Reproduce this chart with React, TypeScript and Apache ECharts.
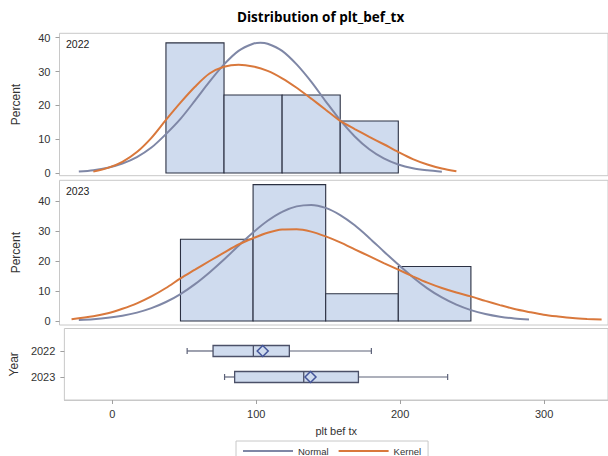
import React, { useEffect, useRef } from "react";
import * as echarts from "echarts";

// ---- Data ----
const years = ["2022", "2023"];

// Histograms (bin edges and percent per bin)
const binEdges2022 = [40, 80, 120, 160, 200];
const pct2022 = [38.46, 23.08, 23.08, 15.38];
const binEdges2023 = [50, 100, 150, 200, 250];
const pct2023 = [27.27, 45.45, 9.09, 18.18];

// Normal curve 2022
const normX2022 = [-20, -10, 0, 10, 20, 30, 40, 50, 60, 70, 80, 90, 100, 105, 110, 120, 130, 140, 150, 160, 170, 180, 190, 200, 210, 220, 230];
const normY2022 = [0.41, 0.83, 1.57, 2.8, 4.72, 7.52, 11.5, 16.0, 21.4, 27.0, 32.1, 36.1, 38.2, 38.5, 38.2, 36.1, 32.1, 27.0, 21.2, 15.6, 10.8, 7.0, 4.3, 2.5, 1.4, 0.8, 0.4];

// Kernel curve 2022
const kernX2022 = [-10, 0, 10, 20, 30, 40, 50, 60, 70, 80, 90, 100, 110, 120, 130, 140, 150, 160, 170, 180, 190, 200, 210, 220, 230, 240];
const kernY2022 = [0.4, 1.5, 3.3, 6.2, 10.4, 15.7, 20.8, 25.5, 29.4, 31.4, 32.0, 31.5, 30.2, 28.0, 25.2, 22.0, 18.7, 15.4, 13.0, 10.7, 8.5, 6.2, 4.1, 2.5, 1.3, 0.5];

// Normal curve 2023
const normX2023 = [-20, -10, 0, 10, 20, 30, 40, 50, 60, 70, 80, 90, 100, 110, 120, 130, 140, 150, 160, 170, 180, 190, 200, 210, 220, 230, 240, 250, 260, 270, 280, 290];
const normY2023 = [0.35, 0.62, 1.07, 1.77, 2.8, 4.29, 6.33, 8.99, 12.3, 16.2, 20.5, 25.1, 29.5, 33.4, 36.4, 38.2, 38.7, 37.7, 35.3, 31.9, 27.7, 23.2, 18.8, 14.6, 10.9, 7.85, 5.44, 3.63, 2.34, 1.45, 0.86, 0.5];

// Kernel curve 2023
const kernX2023 = [-25, -10, 0, 10, 20, 30, 40, 50, 60, 70, 80, 90, 100, 110, 120, 130, 140, 150, 160, 170, 180, 190, 200, 210, 220, 230, 240, 250, 260, 270, 280, 290, 300, 310, 320, 330, 340];
const kernY2023 = [0.6, 1.6, 2.6, 4.1, 5.9, 8.2, 11.0, 14.2, 17.1, 20.0, 22.8, 25.5, 27.6, 29.4, 30.5, 30.6, 29.8, 28.2, 26.2, 23.9, 21.6, 19.3, 17.1, 14.9, 12.8, 11.0, 9.5, 8.2, 6.7, 5.3, 4.0, 3.0, 2.1, 1.5, 1.0, 0.7, 0.5];

// Box plot stats: [min, q1, median, q3, max, mean]
const box2022 = [52, 70, 98, 123, 180, 104.5];
const box2023 = [78, 85, 133, 171, 233, 137.7];

const percentTicks = [0, 10, 20, 30, 40];
const xTicks = [0, 100, 200, 300];

const NORMAL_COLOR = "#7f87a6";
const KERNEL_COLOR = "#d9783c";
const BAR_FILL = "#cfdbee";
const BAR_STROKE = "#2b3042";
const FRAME = "#c8c8c8";
const FONT = "Liberation Sans";

function pairs(xs: number[], ys: number[]) {
  return xs.map((x, i) => [x, ys[i]]);
}
function bins(edges: number[], pcts: number[]) {
  return pcts.map((p, i) => [edges[i], edges[i + 1], p]);
}

export default function App() {
  const ref = useRef<HTMLDivElement>(null);
  useEffect(() => {
    if (!ref.current) return;
    const chart = echarts.init(ref.current, null, { renderer: "svg" });

    const histRender = (params: any, api: any) => {
      const x0 = api.value(0);
      const x1 = api.value(1);
      const p = api.value(2);
      const a = api.coord([x0, p]);
      const b = api.coord([x1, 0]);
      return {
        type: "rect",
        shape: { x: a[0], y: a[1], width: b[0] - a[0], height: b[1] - a[1] },
        style: { fill: BAR_FILL, stroke: BAR_STROKE, lineWidth: 1.1 },
      };
    };

    const boxRender = (params: any, api: any) => {
      const yv = api.value(0);
      const mn = api.coord([api.value(1), yv]);
      const q1 = api.coord([api.value(2), yv]);
      const md = api.coord([api.value(3), yv]);
      const q3 = api.coord([api.value(4), yv]);
      const mx = api.coord([api.value(5), yv]);
      const mean = api.coord([api.value(6), yv]);
      const cy = mn[1];
      const h = 5.5;
      const cap = 3;
      const d = 5.5;
      const lineStyle = { stroke: "#5d6279", lineWidth: 1.2 };
      return {
        type: "group",
        children: [
          { type: "line", shape: { x1: mn[0], y1: cy, x2: q1[0], y2: cy }, style: lineStyle },
          { type: "line", shape: { x1: q3[0], y1: cy, x2: mx[0], y2: cy }, style: lineStyle },
          { type: "line", shape: { x1: mn[0], y1: cy - cap, x2: mn[0], y2: cy + cap }, style: lineStyle },
          { type: "line", shape: { x1: mx[0], y1: cy - cap, x2: mx[0], y2: cy + cap }, style: lineStyle },
          {
            type: "rect",
            shape: { x: q1[0], y: cy - h, width: q3[0] - q1[0], height: 2 * h },
            style: { fill: BAR_FILL, stroke: "#4b5068", lineWidth: 1.3 },
          },
          { type: "line", shape: { x1: md[0], y1: cy - h, x2: md[0], y2: cy + h }, style: { stroke: "#4b5068", lineWidth: 1.3 } },
          {
            type: "polygon",
            shape: { points: [[mean[0], cy - d], [mean[0] + d, cy], [mean[0], cy + d], [mean[0] - d, cy]] },
            style: { fill: BAR_FILL, stroke: "#44559a", lineWidth: 1.5 },
          },
        ],
      };
    };

    const xMin = -33.3;
    const xMax = 344.4;
    const baseX = (idx: number, showLabels: boolean) => ({
      type: "value",
      gridIndex: idx,
      min: xMin,
      max: xMax,
      show: showLabels,
      position: "bottom",
      splitLine: { show: false },
      axisLine: { show: showLabels, onZero: false, lineStyle: { color: FRAME } },
      axisTick: { show: showLabels, length: 4, customValues: xTicks, lineStyle: { color: "#a0a0a0" } },
      axisLabel: { show: showLabels, customValues: xTicks, margin: 8, color: "#333", fontSize: 11, fontFamily: FONT },
      name: showLabels ? "plt bef tx" : "",
      nameLocation: "middle",
      nameGap: 25,
      nameTextStyle: { color: "#333", fontSize: 11, fontFamily: FONT },
    });

    const pctY = (idx: number, min: number, max: number) => ({
      type: "value",
      gridIndex: idx,
      min,
      max,
      position: "left",
      splitLine: { show: false },
      axisLine: { show: false, onZero: false },
      axisTick: { show: true, length: 4, customValues: percentTicks, lineStyle: { color: "#a0a0a0" } },
      axisLabel: { customValues: percentTicks, margin: 9, color: "#333", fontSize: 11, fontFamily: FONT },
      name: "Percent",
      nameLocation: "middle",
      nameGap: 38,
      nameTextStyle: { color: "#333", fontSize: 12, fontFamily: FONT },
    });

    const lineSeries = (name: string, idx: number, xs: number[], ys: number[], color: string, z: number) => ({
      type: "line",
      name,
      xAxisIndex: idx,
      yAxisIndex: idx,
      data: pairs(xs, ys),
      smooth: 0.3,
      showSymbol: false,
      lineStyle: { color, width: 2 },
      itemStyle: { color },
      z,
    });

    const option: any = {
      animation: false,
      backgroundColor: "#ffffff",
      grid: [
        { left: 59.5, right: -1, top: 33.3, height: 142.4, show: true, borderColor: FRAME, borderWidth: 1 },
        { left: 59.5, right: -1, top: 180.3, height: 144.7, show: true, borderColor: FRAME, borderWidth: 1 },
        { left: 59.5, right: -1, top: 328.5, height: 71.5, show: true, borderColor: FRAME, borderWidth: 1 },
      ],
      xAxis: [baseX(0, false), baseX(1, false), baseX(2, true)],
      yAxis: [
        pctY(0, -0.8, 41.3),
        pctY(1, -1.33, 46.9),
        {
          type: "value",
          gridIndex: 2,
          inverse: true,
          min: -0.865,
          max: 1.885,
          position: "left",
          splitLine: { show: false },
          axisLine: { show: false, onZero: false },
          axisTick: { show: true, length: 4, customValues: [0, 1], lineStyle: { color: "#a0a0a0" } },
          axisLabel: {
            customValues: [0, 1],
            margin: 9,
            color: "#333",
            fontSize: 11,
            fontFamily: FONT,
            formatter: (v: number) => years[Math.round(v)] ?? "",
          },
          name: "Year",
          nameLocation: "middle",
          nameGap: 38,
          nameTextStyle: { color: "#333", fontSize: 12, fontFamily: FONT },
        },
      ],
      legend: {
        left: 236,
        top: 441,
        orient: "horizontal",
        itemWidth: 50,
        itemHeight: 2,
        itemGap: 10,
        padding: [5, 7, 5, 7],
        borderColor: "#c8c8c8",
        borderWidth: 1,
        borderRadius: 0,
        textStyle: { color: "#333", fontSize: 9.5, fontFamily: FONT },
        data: [
          { name: "Normal", icon: "rect", itemStyle: { color: NORMAL_COLOR } },
          { name: "Kernel", icon: "rect", itemStyle: { color: KERNEL_COLOR } },
        ],
      },
      graphic: [
        {
          type: "text",
          left: 237,
          top: 10,
          style: { text: "Distribution of plt_bef_tx", fill: "#000", font: "bold 13.5px 'Open Sans'" },
        },
        { type: "text", left: 66, top: 38, style: { text: "2022", fill: "#222", font: `10.5px '${FONT}'` } },
        { type: "text", left: 66, top: 185, style: { text: "2023", fill: "#222", font: `10.5px '${FONT}'` } },
      ],
      series: [
        {
          type: "custom",
          name: "hist2022",
          xAxisIndex: 0,
          yAxisIndex: 0,
          renderItem: histRender,
          data: bins(binEdges2022, pct2022),
          encode: { x: [0, 1], y: 2 },
          z: 1,
        },
        lineSeries("Normal", 0, normX2022, normY2022, NORMAL_COLOR, 3),
        lineSeries("Kernel", 0, kernX2022, kernY2022, KERNEL_COLOR, 4),
        {
          type: "custom",
          name: "hist2023",
          xAxisIndex: 1,
          yAxisIndex: 1,
          renderItem: histRender,
          data: bins(binEdges2023, pct2023),
          encode: { x: [0, 1], y: 2 },
          z: 1,
        },
        lineSeries("Normal", 1, normX2023, normY2023, NORMAL_COLOR, 3),
        lineSeries("Kernel", 1, kernX2023, kernY2023, KERNEL_COLOR, 4),
        {
          type: "custom",
          name: "box",
          xAxisIndex: 2,
          yAxisIndex: 2,
          renderItem: boxRender,
          data: [
            [0, ...box2022],
            [1, ...box2023],
          ],
          encode: { x: [1, 2, 3, 4, 5, 6], y: 0 },
          z: 2,
        },
      ],
    };

    chart.setOption(option);
    return () => chart.dispose();
  }, []);

  return (
    <div
      ref={ref}
      style={{ position: "fixed", left: 0, top: 0, width: 608, height: 456, background: "#fff" }}
    />
  );
}
